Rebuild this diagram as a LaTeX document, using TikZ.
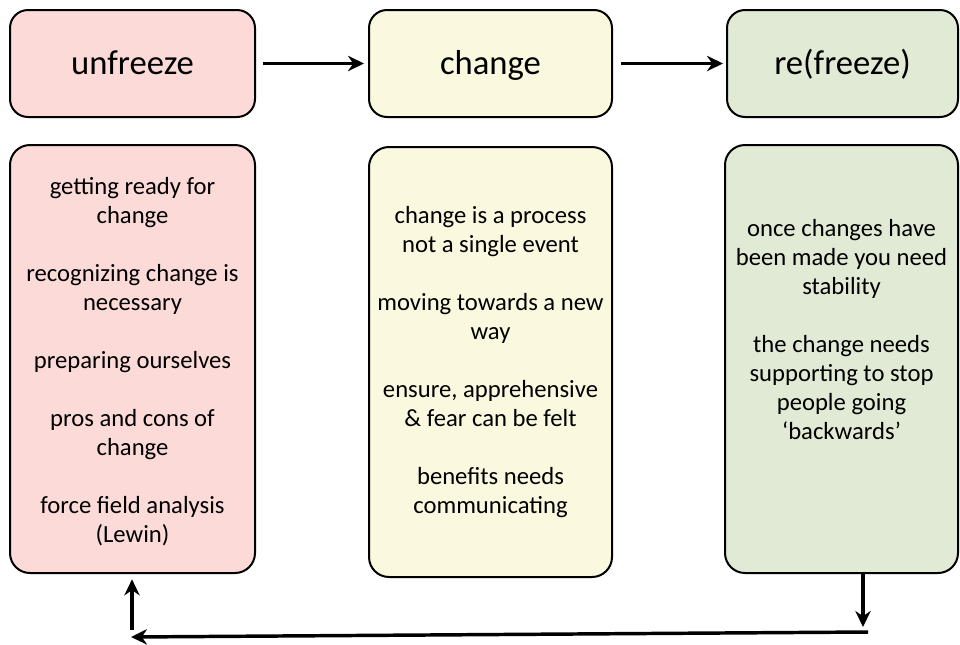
\documentclass[tikz,border=0pt]{standalone}
\usepackage{fontspec}
\setmainfont{Carlito}
\usetikzlibrary{arrows.meta}

\tikzset{every picture/.style={line width=0.75pt}}
\tikzset{
  stage/.style={draw, line width=1.5pt, rounded corners=13.5pt, inner sep=0pt, minimum height=80.25pt,
    font=\fontsize{26}{30}\selectfont, text height=20pt, text depth=4pt},
  notes/.style={draw, line width=1.5pt, rounded corners=15pt, inner sep=0pt},
  notetext/.style={anchor=north, inner sep=0pt, align=center, font=\fontsize{18.5}{21.75}\selectfont},
  flow/.style={line width=2.6pt, -{Stealth[length=12pt,width=11.5pt]}}
}

\begin{document}
\begin{tikzpicture}[x=0.75pt,y=0.75pt,yscale=-1,xscale=1]
\useasboundingbox (0,0) rectangle (960,644);

%Rounded Rect
\node [stage, fill={rgb, 255:red, 251; green, 218; blue, 216}, minimum width=183.75pt] (unfreeze) at (132.5,63.5) {unfreeze};
%Rounded Rect
\node [stage, fill={rgb, 255:red, 250; green, 248; blue, 222}, minimum width=182.25pt] (change) at (490.5,63.5) {change};
%Rounded Rect
\node [stage, fill={rgb, 255:red, 224; green, 234; blue, 212}, minimum width=173.25pt] (refreeze) at (842.5,63.5) {re(freeze)};

%Rounded Rect
\node [notes, fill={rgb, 255:red, 251; green, 218; blue, 216}, minimum width=183.75pt, minimum height=321pt] (unfreezeList) at (132.5,359) {};
%Rounded Rect
\node [notes, fill={rgb, 255:red, 250; green, 248; blue, 222}, minimum width=182.25pt, minimum height=322.5pt] (changeList) at (490.5,362) {};
%Rounded Rect
\node [notes, fill={rgb, 255:red, 224; green, 234; blue, 212}, minimum width=174.75pt, minimum height=321pt] (refreezeList) at (841.5,359) {};

% Text Node
\node [notetext] (unfreezeText) at (132.5,177) {getting ready for\\change\\[21.75pt]recognizing change is\\necessary\\[21.75pt]preparing ourselves\\[21.75pt]pros and cons of\\change\\[21.75pt]force field analysis\\(Lewin)};
% Text Node
\node [notetext] (changeText) at (490.5,206) {change is a process\\not a single event\\[21.75pt]moving towards a new\\way\\[21.75pt]ensure, apprehensive\\\& fear can be felt\\[21.75pt]benefits needs\\communicating};
% Text Node
\node [notetext] (refreezeText) at (841.5,219) {once changes have\\been made you need\\stability\\[21.75pt]the change needs\\supporting to stop\\people going\\`backwards'};

%Straight Lines
\draw [flow, shorten <=5.25pt, shorten >=3pt] (unfreeze) -- (change);
%Straight Lines
\draw [flow, shorten <=6pt, shorten >=2.25pt] (change) -- (refreeze);

\coordinate (dropEnd) at (863,627);
\coordinate (loopRight) at (868,632);
\coordinate (loopLeft) at (131,637);
\coordinate (riseStart) at (132,630);
%Straight Lines
\draw [flow] (refreezeList.south -| dropEnd) -- (dropEnd);
%Straight Lines
\draw [flow] (loopRight) -- (loopLeft);
%Straight Lines
\draw [flow, shorten >=4pt] (riseStart) -- (riseStart |- unfreezeList.south);

\end{tikzpicture}
\end{document}
